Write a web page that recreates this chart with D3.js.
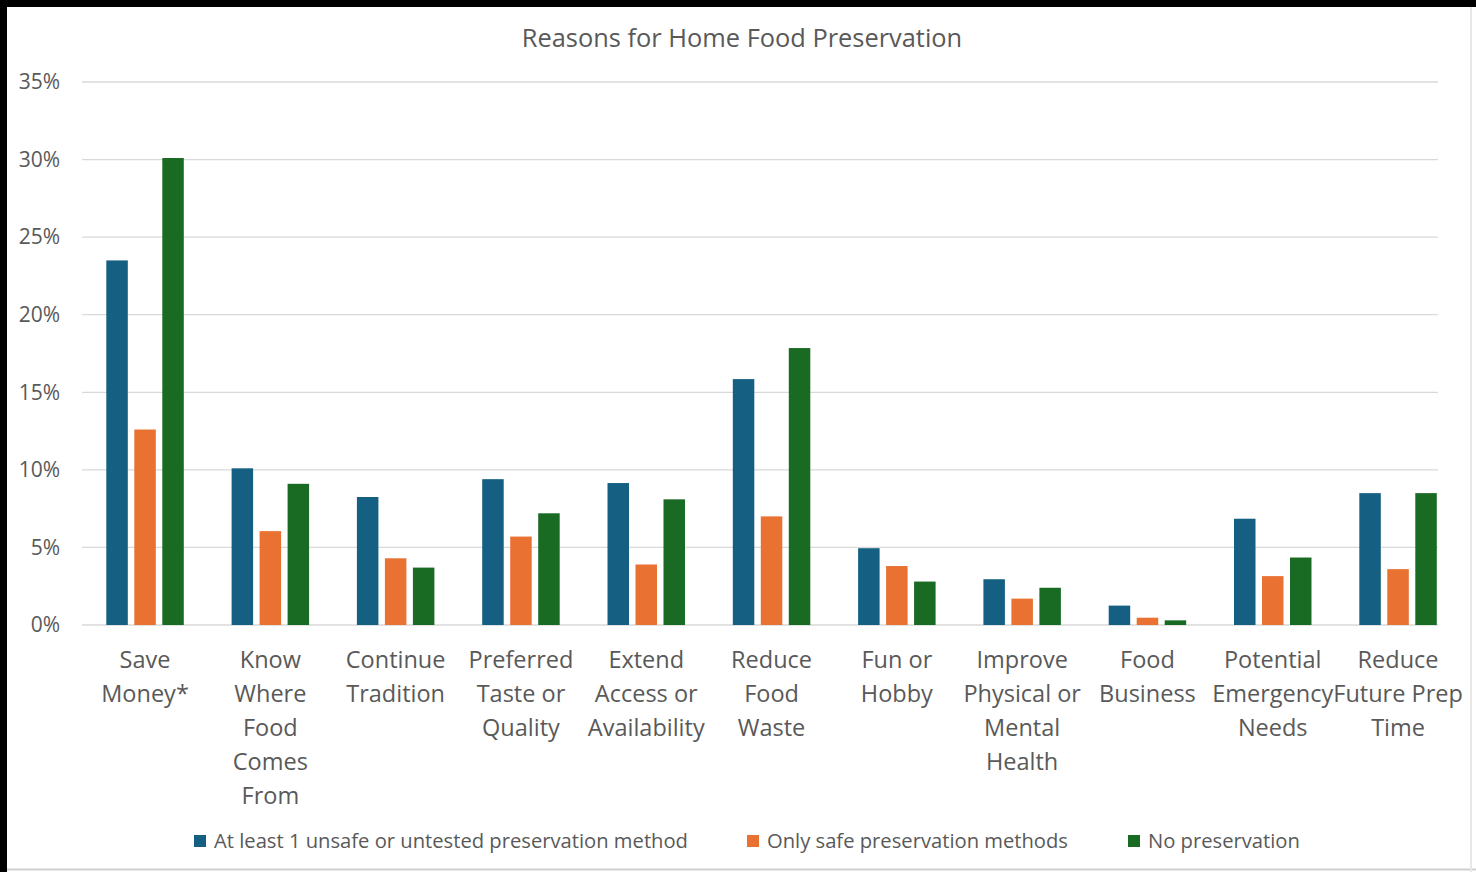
<!DOCTYPE html>
<html><head><meta charset="utf-8">
<script src="https://cdn.jsdelivr.net/npm/d3@7"></script>
<style>
html,body{margin:0;padding:0;background:#fff;}
svg{display:block;}
text{font-family:"Open Sans","Noto Sans",sans-serif;fill:#595959;}
</style></head>
<body><svg id="c" width="1476" height="872"></svg>
<script>
const categories = ["Save Money*","Know Where Food Comes From","Continue Tradition","Preferred Taste or Quality","Extend Access or Availability","Reduce Food Waste","Fun or Hobby","Improve Physical or Mental Health","Food Business","Potential Emergency Needs","Reduce Future Prep Time"];
const categoryLines = [["Save","Money*"],["Know","Where","Food","Comes","From"],["Continue","Tradition"],["Preferred","Taste or","Quality"],["Extend","Access or","Availability"],["Reduce","Food","Waste"],["Fun or","Hobby"],["Improve","Physical or","Mental","Health"],["Food","Business"],["Potential","Emergency","Needs"],["Reduce","Future Prep","Time"]];
const seriesNames = ["At least 1 unsafe or untested preservation method","Only safe preservation methods","No preservation"];
const unsafe = [23.5,10.1,8.25,9.4,9.15,15.85,4.95,2.95,1.25,6.85,8.5];
const safeOnly = [12.6,6.05,4.3,5.7,3.9,7.0,3.8,1.7,0.47,3.15,3.6];
const noPres = [30.1,9.1,3.7,7.2,8.1,17.85,2.8,2.4,0.3,4.35,8.5];
const yTicks = [0,5,10,15,20,25,30,35];
const colors = ["#156082","#E97132","#196B24"];

const svg = d3.select("#c");
svg.append("rect").attr("x",0).attr("y",0).attr("width",1476).attr("height",872).attr("fill","#fff");

const y = d3.scaleLinear().domain([0,35]).range([625,82]);
const x = d3.scaleBand().domain(categories).range([82.4,1460.7]).paddingInner(0).paddingOuter(0);
const xs = d3.scaleBand().domain([0,1,2]).range([0,x.bandwidth()]).paddingInner(0.232).paddingOuter(0.854);

// gridlines
svg.append("g").selectAll("line").data(yTicks).join("line")
  .attr("x1",82).attr("x2",1438).attr("y1",d=>y(d)).attr("y2",d=>y(d))
  .attr("stroke","#d9d9d9").attr("stroke-width",1.3);

// y labels
svg.append("g").selectAll("text").data(yTicks).join("text")
  .attr("x",60).attr("y",d=>y(d)).attr("dy","0.35em").attr("text-anchor","end")
  .style("font-size","21px").text(d=>d+"%");

// bars
const series = [unsafe,safeOnly,noPres];
series.forEach((vals,si)=>{
  svg.append("g").selectAll("rect").data(vals).join("rect")
    .attr("x",(d,i)=>x(categories[i])+xs(si))
    .attr("width",xs.bandwidth())
    .attr("y",d=>y(d)).attr("height",d=>y(0)-y(d))
    .attr("fill",colors[si]);
});

// x labels
const xl = svg.append("g");
categories.forEach((c,i)=>{
  const t = xl.append("text").attr("text-anchor","middle").style("font-size","23.5px");
  categoryLines[i].forEach((ln,j)=>{
    t.append("tspan").attr("x",x(c)+x.bandwidth()/2).attr("y",668+j*34).text(ln);
  });
});

// title
svg.append("text").attr("x",742).attr("y",47).attr("text-anchor","middle")
  .style("font-size","25.4px").text("Reasons for Home Food Preservation");

// legend
const legX = [194,747,1128];
seriesNames.forEach((s,i)=>{
  svg.append("rect").attr("x",legX[i]).attr("y",835).attr("width",12).attr("height",12).attr("fill",colors[i]);
  svg.append("text").attr("x",legX[i]+20).attr("y",841).attr("dy","0.35em").style("font-size","20.2px").text(s);
});

// frame
svg.append("rect").attr("x",0).attr("y",0).attr("width",1476).attr("height",7).attr("fill","#000");
svg.append("rect").attr("x",0).attr("y",0).attr("width",7).attr("height",872).attr("fill","#000");
svg.append("line").attr("x1",7).attr("x2",1476).attr("y1",869.5).attr("y2",869.5).attr("stroke","#d0d0d0").attr("stroke-width",2);
svg.append("line").attr("x1",1471).attr("x2",1471).attr("y1",7).attr("y2",872).attr("stroke","#e8e8e8").attr("stroke-width",2);
</script></body></html>
